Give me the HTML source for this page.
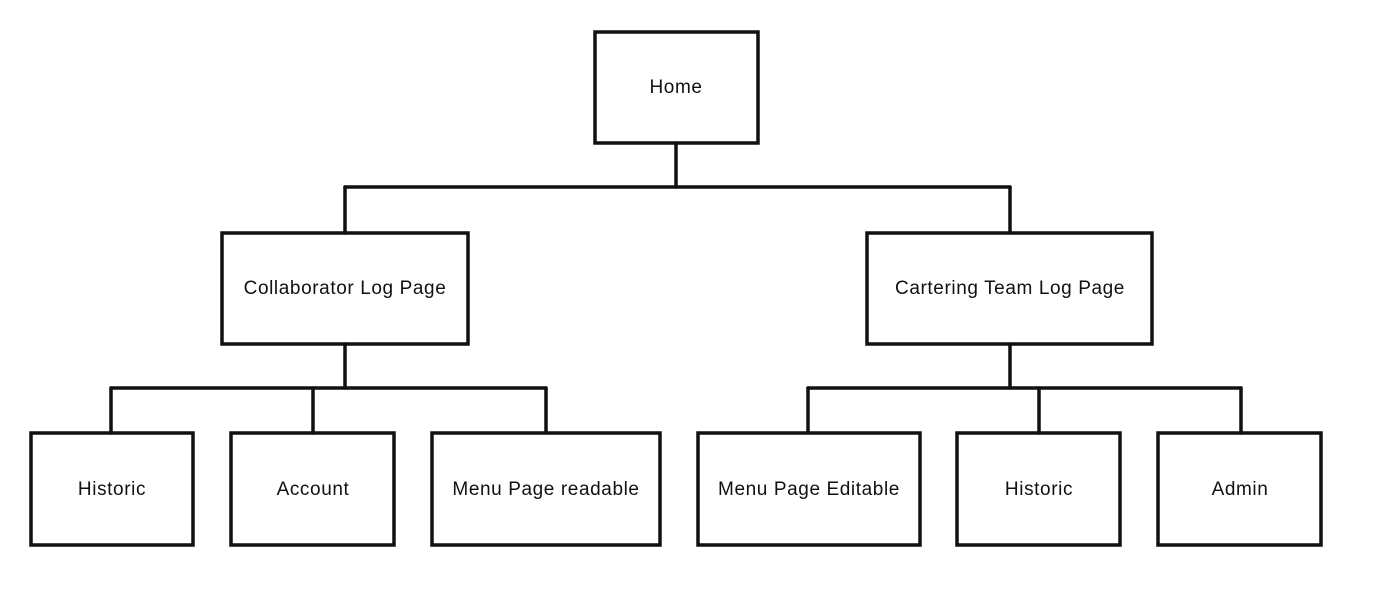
<!DOCTYPE html>
<html><head><meta charset="utf-8"><style>
html,body{margin:0;padding:0;background:#fff;}
svg{display:block;}
text{font-family:"Liberation Sans",sans-serif;font-size:19px;fill:#111;letter-spacing:0.6px;}
</style></head><body>
<svg width="1399" height="590" viewBox="0 0 1399 590" xmlns="http://www.w3.org/2000/svg">
<g stroke="#111" stroke-width="3.5" fill="none" stroke-linecap="round">
<line x1="676" y1="143" x2="676" y2="187"/>
<line x1="345" y1="187" x2="1010" y2="187"/>
<line x1="345" y1="187" x2="345" y2="233"/>
<line x1="1010" y1="187" x2="1010" y2="233"/>
<line x1="345" y1="344" x2="345" y2="388"/>
<line x1="111" y1="388" x2="546" y2="388"/>
<line x1="111" y1="388" x2="111" y2="433"/>
<line x1="313" y1="388" x2="313" y2="433"/>
<line x1="546" y1="388" x2="546" y2="433"/>
<line x1="1010" y1="344" x2="1010" y2="388"/>
<line x1="808" y1="388" x2="1241" y2="388"/>
<line x1="808" y1="388" x2="808" y2="433"/>
<line x1="1039" y1="388" x2="1039" y2="433"/>
<line x1="1241" y1="388" x2="1241" y2="433"/>
<rect x="595" y="32" width="163" height="111"/>
<rect x="222" y="233" width="246" height="111"/>
<rect x="867" y="233" width="285" height="111"/>
<rect x="31" y="433" width="162" height="112"/>
<rect x="231" y="433" width="163" height="112"/>
<rect x="432" y="433" width="228" height="112"/>
<rect x="698" y="433" width="222" height="112"/>
<rect x="957" y="433" width="163" height="112"/>
<rect x="1158" y="433" width="163" height="112"/>
</g>
<g text-anchor="middle">
<text x="676" y="93">Home</text>
<text x="345" y="294">Collaborator Log Page</text>
<text x="1010" y="294">Cartering Team Log Page</text>
<text x="112" y="495">Historic</text>
<text x="313" y="495">Account</text>
<text x="546" y="495">Menu Page readable</text>
<text x="809" y="495">Menu Page Editable</text>
<text x="1039" y="495">Historic</text>
<text x="1240" y="495">Admin</text>
</g>
</svg>
</body></html>
